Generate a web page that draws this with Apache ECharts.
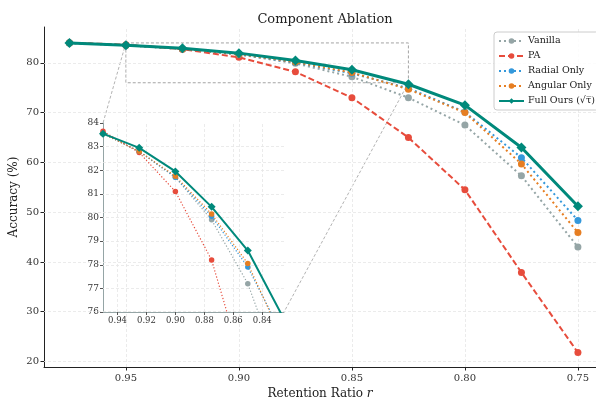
<!DOCTYPE html>
<html>
<head>
<meta charset="utf-8">
<script src="https://cdn.jsdelivr.net/npm/echarts@6/dist/echarts.min.js"></script>
<style>
  html, body { margin: 0; padding: 0; background: #fff; }
  #chart { width: 596px; height: 398px; }
</style>
</head>
<body>
<div id="chart"></div>
<script>
// retention ratios (x) and accuracies (%) per method
const ratios = [0.975, 0.95, 0.925, 0.90, 0.875, 0.85, 0.825, 0.80, 0.775, 0.75]
const vanilla = [84.0, 83.55, 82.8, 81.7, 79.9, 77.2, 73.0, 67.5, 57.3, 43.0]
const pa = [84.05, 83.65, 82.75, 81.1, 78.2, 73.0, 65.0, 54.5, 37.9, 21.8]
const radial = [84.0, 83.55, 82.8, 81.7, 80.05, 77.9, 74.9, 70.1, 60.95, 48.35]
const angular = [84.0, 83.55, 82.8, 81.75, 80.15, 78.05, 74.7, 70.0, 59.7, 45.9]
const fullOurs = [84.0, 83.55, 82.95, 81.95, 80.45, 78.6, 75.7, 71.5, 63.0, 51.2]

const xTicks = [0.95, 0.90, 0.85, 0.80, 0.75]
const yTicks = [20, 30, 40, 50, 60, 70, 80]
const insetXTicks = [0.94, 0.92, 0.90, 0.88, 0.86, 0.84]
const insetYTicks = [76, 77, 78, 79, 80, 81, 82, 83, 84]
const zoomBox = { x0: 0.95, x1: 0.825, y0: 76, y1: 84 }

const serif = 'DejaVu Serif, serif'
const gridColor = '#e6e6e6'
const insetRect = { left: 103, top: 123, width: 181, height: 189 }

const methods = [
    { name: 'Vanilla', data: vanilla, color: '#95a5a6', type: [2, 3], width: 2, inType: [1.2, 2], inWidth: 1.2, symbol: 'circle' },
    { name: 'PA', data: pa, color: '#e74c3c', type: [6, 3], width: 2, inType: [1.2, 2], inWidth: 1.2, symbol: 'circle' },
    { name: 'Radial Only', data: radial, color: '#3498db', type: [2, 3], width: 2, inType: [1.2, 2], inWidth: 1.2, symbol: 'circle' },
    { name: 'Angular Only', data: angular, color: '#e67e22', type: [2, 3], width: 2, inType: [1.2, 2], inWidth: 1.2, symbol: 'circle' },
    { name: 'Full Ours (√τ̅)', data: fullOurs, color: '#00897b', type: 'solid', width: 3, inType: 'solid', inWidth: 2, symbol: 'diamond' }
]

const pairs = arr => ratios.map((r, i) => [r, arr[i]])

const gridMarkLine = (xs, ys) => ({
    silent: true,
    symbol: 'none',
    label: { show: false },
    lineStyle: { color: gridColor, type: [3, 2], width: 0.8 },
    data: [...xs.map(v => ({ xAxis: v })), ...ys.map(v => ({ yAxis: v }))]
})

const mainSeries = methods.map((m, i) => ({
    name: m.name,
    type: 'line',
    xAxisIndex: 0,
    yAxisIndex: 0,
    z: 5 + i,
    data: pairs(m.data),
    symbol: m.symbol,
    symbolSize: m.symbol === 'diamond' ? 10 : 7,
    lineStyle: { color: m.color, width: m.width, type: m.type },
    itemStyle: { color: m.color },
    emphasis: { disabled: true },
    animation: false
}))

const insetSeries = methods.map((m, i) => ({
    name: 'inset-' + m.name,
    type: 'line',
    xAxisIndex: 1,
    yAxisIndex: 1,
    z: 5 + i,
    clip: true,
    data: pairs(m.data),
    symbol: m.symbol,
    symbolSize: m.symbol === 'diamond' ? 8 : 5.5,
    lineStyle: { color: m.color, width: m.inWidth, type: m.inType },
    itemStyle: { color: m.color },
    emphasis: { disabled: true },
    animation: false
}))

const axisText = { fontFamily: serif, color: '#333' }

const option = {
    animation: false,
    backgroundColor: '#fff',
    title: {
        text: 'Component Ablation',
        left: 320,
        textAlign: 'center',
        top: 8,
        textStyle: { fontFamily: serif, fontSize: 13, fontWeight: 'normal', color: '#222' }
    },
    legend: {
        data: methods.map(m => m.name),
        orient: 'vertical',
        left: 494,
        top: 32,
        z: 20,
        padding: [4, 4, 4, 4],
        itemGap: 5,
        itemWidth: 25,
        itemHeight: 7,
        borderColor: '#cccccc',
        borderWidth: 1,
        borderRadius: 3,
        backgroundColor: 'rgba(255,255,255,0.85)',
        textStyle: { fontFamily: serif, fontSize: 9.5, color: '#222', padding: [0, 0, 0, -1] },
        selectedMode: false
    },
    grid: [
        { left: 44, top: 27, right: 0, bottom: 31, outerBoundsMode: 'none' },
        { left: insetRect.left, top: insetRect.top, width: insetRect.width, height: insetRect.height, outerBoundsMode: 'none' }
    ],
    xAxis: [
        {
            type: 'value',
            gridIndex: 0,
            inverse: true,
            min: 0.742,
            max: 0.98625,
            name: 'Retention Ratio {i|r}',
            nameLocation: 'middle',
            nameGap: 21,
            nameTextStyle: {
                fontFamily: serif, fontSize: 12, color: '#222',
                rich: { i: { fontFamily: serif, fontSize: 12, fontStyle: 'italic', color: '#222' } }
            },
            axisLine: { lineStyle: { color: '#222', width: 1 } },
            axisTick: { show: true, length: 3.5, customValues: xTicks, lineStyle: { color: '#222' } },
            axisLabel: { customValues: xTicks, formatter: v => v.toFixed(2), fontSize: 10, margin: 6, ...axisText },
            splitLine: { show: false }
        },
        {
            type: 'value',
            gridIndex: 1,
            inverse: true,
            min: zoomBox.x1,
            max: zoomBox.x0,
            z: 4,
            axisLine: { lineStyle: { color: '#95a5a6', width: 1 } },
            axisTick: { show: true, length: 3, customValues: insetXTicks, lineStyle: { color: '#555' } },
            axisLabel: { customValues: insetXTicks, formatter: v => v.toFixed(2), fontSize: 8.5, margin: 4, ...axisText },
            splitLine: { show: false }
        }
    ],
    yAxis: [
        {
            type: 'value',
            gridIndex: 0,
            min: 18.9,
            max: 87.2,
            name: 'Accuracy (%)',
            nameLocation: 'middle',
            nameGap: 24,
            nameMoveOverlap: false,
            nameTextStyle: { fontFamily: serif, fontSize: 12, color: '#222' },
            axisLine: { show: true, lineStyle: { color: '#222', width: 1 } },
            axisTick: { show: true, length: 3.5, customValues: yTicks, lineStyle: { color: '#222' } },
            axisLabel: { customValues: yTicks, fontSize: 10, margin: 5, ...axisText },
            splitLine: { show: false }
        },
        {
            type: 'value',
            gridIndex: 1,
            min: zoomBox.y0,
            max: zoomBox.y1,
            interval: 1,
            z: 4,
            axisLine: { show: true, lineStyle: { color: '#95a5a6', width: 1 } },
            axisTick: { show: true, length: 3, lineStyle: { color: '#555' } },
            axisLabel: { fontSize: 9, margin: 4, ...axisText },
            splitLine: { show: false }
        }
    ],
    series: [
        // main grid lines
        { type: 'line', xAxisIndex: 0, yAxisIndex: 0, z: 0, data: [], markLine: gridMarkLine(xTicks, yTicks) },
        // zoom rectangle
        {
            type: 'line', xAxisIndex: 0, yAxisIndex: 0, z: 3, data: [],
            markArea: {
                silent: true,
                itemStyle: { color: 'rgba(0,0,0,0)', borderColor: '#9a9a9a', borderWidth: 0.9, borderType: [3, 2] },
                data: [[{ coord: [zoomBox.x0, zoomBox.y1] }, { coord: [zoomBox.x1, zoomBox.y0] }]]
            }
        },
        // inset grid lines
        { type: 'line', xAxisIndex: 1, yAxisIndex: 1, z: 3, data: [], markLine: gridMarkLine(insetXTicks, insetYTicks.slice(1, -1)) },
        ...mainSeries,
        ...insetSeries
    ]
}

const chart = echarts.init(document.getElementById('chart'))
chart.setOption(option)

// inset background + connector lines from the zoom box to the inset corners
const boxTL = chart.convertToPixel({ gridIndex: 0 }, [zoomBox.x0, zoomBox.y1])
const boxBR = chart.convertToPixel({ gridIndex: 0 }, [zoomBox.x1, zoomBox.y0])
const inTL = chart.convertToPixel({ gridIndex: 1 }, [zoomBox.x0, zoomBox.y1])
const inBR = chart.convertToPixel({ gridIndex: 1 }, [zoomBox.x1, zoomBox.y0])
const connector = (a, b) => ({
    type: 'line',
    z: 3,
    silent: true,
    shape: { x1: a[0], y1: a[1], x2: b[0], y2: b[1] },
    style: { stroke: '#a0a0a0', lineWidth: 0.8, lineDash: [3, 2] }
})
chart.setOption({
    graphic: [
        {
            type: 'rect',
            z: 1,
            silent: true,
            shape: { x: inTL[0], y: inTL[1], width: inBR[0] - inTL[0], height: inBR[1] - inTL[1] },
            style: { fill: '#fff' }
        },
        connector(boxTL, inTL),
        connector(boxBR, inBR)
    ]
})
</script>
</body>
</html>
